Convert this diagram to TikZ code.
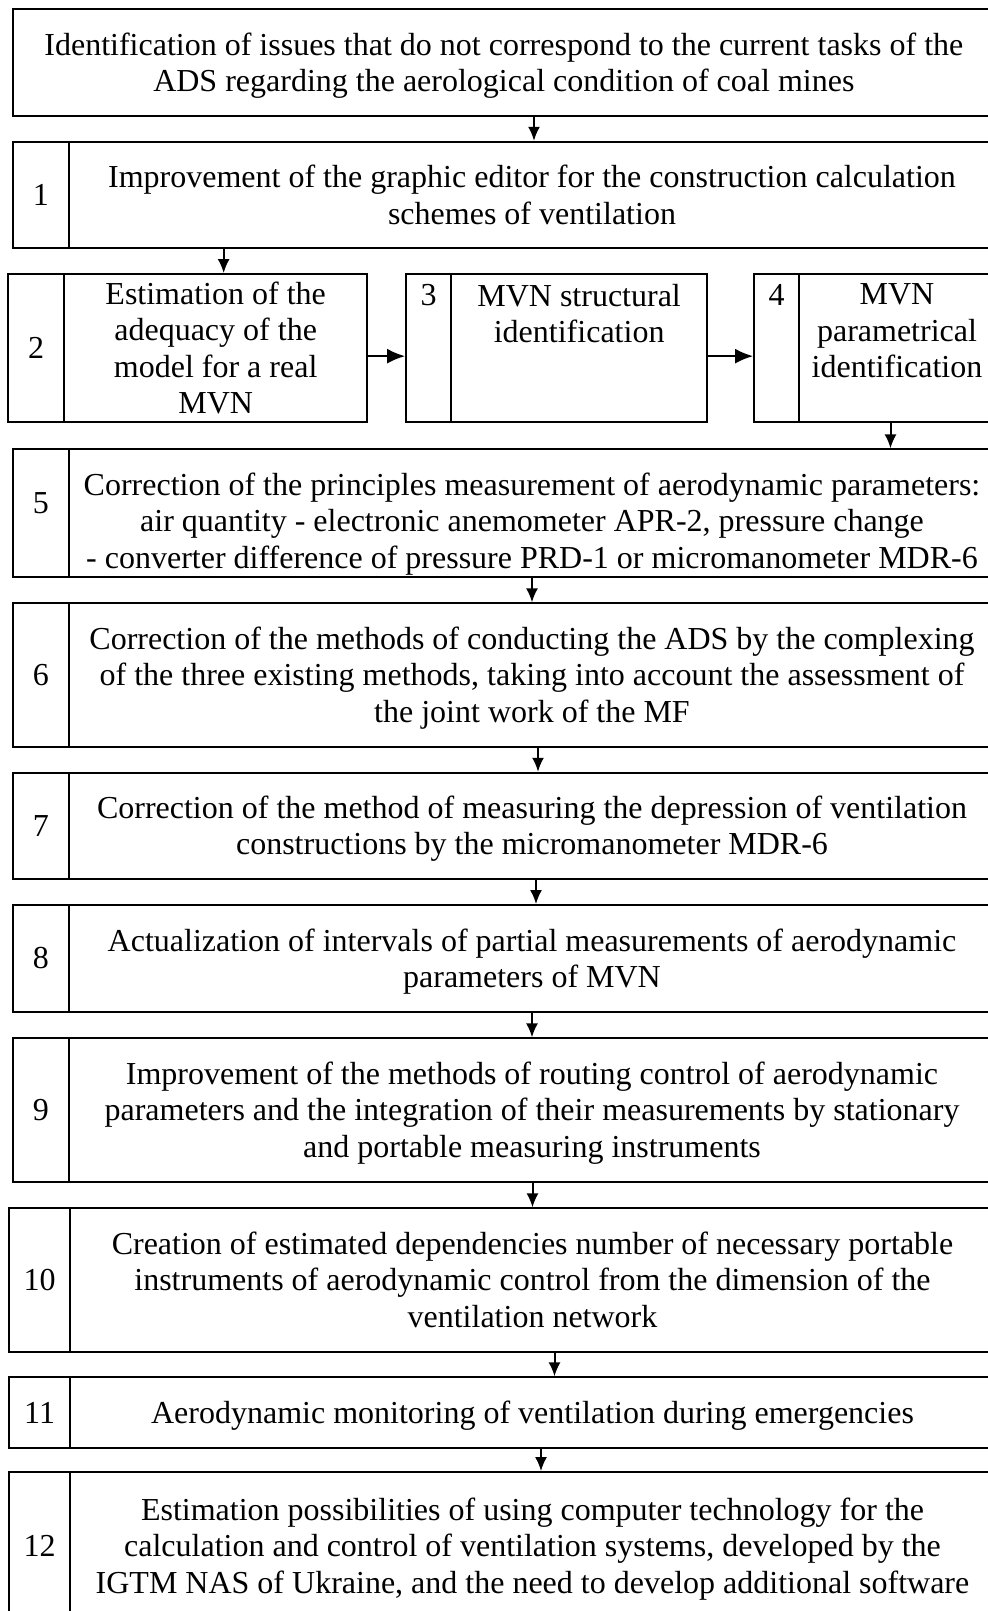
\documentclass[tikz,border=0pt]{standalone}
\usepackage{fontspec}
\setmainfont{Liberation Serif}
\usetikzlibrary{arrows.meta,calc}

\begin{document}
\begin{tikzpicture}[x=0.5pt, y=-0.5pt,
    every node/.style={draw, rectangle, line width=0.9pt, inner sep=0pt, align=center,
        font=\fontsize{16}{18.2}\selectfont},
    stage/.style={text depth=0.4pt},
    arr/.style={->, >={Latex[length=7pt, width=6pt]}, line width=1pt},
    harr/.style={->, >={Latex[length=9pt, width=7.5pt]}, line width=1pt}]
    \useasboundingbox (0,0) rectangle (987,1611);

    \node[stage, minimum width=491.15pt, minimum height=53.5pt] (top) at (503.85,62.5) {Identification of issues that do not correspond to the current tasks of the\\ADS regarding the aerological condition of coal mines};

    \node[minimum width=28.15pt, minimum height=53.3pt] (n1) at (40.85,195) {1};
    \node[stage, minimum width=463pt, minimum height=53.3pt] (b1) at (532,195) {Improvement of the graphic editor for the construction calculation\\schemes of ventilation};

    \node[minimum width=27.85pt, minimum height=74.15pt] (n2) at (36.15,348.15) {2};
    \node[stage, minimum width=151.65pt, minimum height=74.15pt] (b2) at (215.65,348.15) {Estimation of the\\adequacy of the\\model for a real\\MVN};
    \node[minimum width=22.5pt, minimum height=74.15pt] (n3) at (428.5,348.15) {\parbox[c][74.15pt][t]{22.5pt}{\centering\vspace*{5pt}3}};
    \node[minimum width=128.15pt, minimum height=74.15pt] (b3) at (579.15,348.15) {\parbox[c][74.15pt][t]{128.15pt}{\centering\vspace*{5pt}MVN structural\\identification}};
    \node[minimum width=22.5pt, minimum height=74.15pt] (n4) at (776.5,348.15) {\parbox[c][74.15pt][t]{22.5pt}{\centering\vspace*{5pt}4}};
    \node[minimum width=98pt, minimum height=74.15pt] (b4) at (897,348.15) {\parbox[c][74.15pt][t]{98pt}{\centering\vspace*{5pt}MVN\\parametrical\\identification}};

    \node[minimum width=28.15pt, minimum height=63.7pt] (n5) at (40.85,513) {\raisebox{10pt}{5}};
    \node[minimum width=463pt, minimum height=63.7pt] (b5) at (532,513) {\parbox[c][63.7pt][c]{463pt}{\centering\vspace*{11pt}Correction of the principles measurement of aerodynamic parameters:\\air quantity - electronic anemometer APR-2, pressure change\\- converter difference of pressure PRD-1 or micromanometer MDR-6}};

    \node[minimum width=28.15pt, minimum height=71.7pt] (n6) at (40.85,675) {6};
    \node[stage, minimum width=463pt, minimum height=71.7pt] (b6) at (532,675) {Correction of the methods of conducting the ADS by the complexing\\of the three existing methods, taking into account the assessment of\\the joint work of the MF};

    \node[minimum width=28.15pt, minimum height=53.15pt] (n7) at (40.85,825.85) {7};
    \node[stage, minimum width=463pt, minimum height=53.15pt] (b7) at (532,825.85) {Correction of the method of measuring the depression of ventilation\\constructions by the micromanometer MDR-6};

    \node[minimum width=28.15pt, minimum height=53.35pt] (n8) at (40.85,958.35) {8};
    \node[stage, minimum width=463pt, minimum height=53.35pt] (b8) at (532,958.35) {Actualization of intervals of partial measurements of aerodynamic\\parameters of MVN};

    \node[minimum width=28.15pt, minimum height=71.7pt] (n9) at (40.85,1110) {9};
    \node[stage, minimum width=463pt, minimum height=71.7pt] (b9) at (532,1110) {Improvement of the methods of routing control of aerodynamic\\parameters and the integration of their measurements by stationary\\and portable measuring instruments};

    \node[minimum width=30.35pt, minimum height=71.7pt] (n10) at (39.65,1280) {10};
    \node[stage, minimum width=462.5pt, minimum height=71.7pt] (b10) at (532.5,1280) {Creation of estimated dependencies number of necessary portable\\instruments of aerodynamic control from the dimension of the\\ventilation network};

    \node[minimum width=30.35pt, minimum height=35.35pt] (n11) at (39.65,1412.65) {11};
    \node[stage, minimum width=462.5pt, minimum height=35.35pt] (b11) at (532.5,1412.65) {Aerodynamic monitoring of ventilation during emergencies};

    \node[minimum width=30.35pt, minimum height=74pt] (n12) at (39.65,1546) {12};
    \node[stage, minimum width=462.5pt, minimum height=74pt] (b12) at (532.5,1546) {Estimation possibilities of using computer technology for the\\calculation and control of ventilation systems, developed by the\\IGTM NAS of Ukraine, and the need to develop additional software};

    % arrows between the stages
    \draw[arr] ($(b1.north |- top.south)+(2,0)$) -- ($(b1.north)+(2,0)$);
    \draw[arr] ($(b2.north |- b1.south)+(8,0)$) -- ($(b2.north)+(8,0)$);
    \draw[harr] ($(b2.east)+(0,8)$) -- ($(n3.west)+(0,8)$);
    \draw[harr] ($(b3.east)+(0,8)$) -- ($(n4.west)+(0,8)$);
    \draw[arr] ($(b4.south)+(-6.5,0)$) -- ($(b4.south |- b5.north)+(-6.5,0)$);
    \draw[arr] (b5.south) -- (b6.north);
    \draw[arr] ($(b6.south)+(6,0)$) -- ($(b7.north)+(6,0)$);
    \draw[arr] ($(b7.south)+(4,0)$) -- ($(b8.north)+(4,0)$);
    \draw[arr] (b8.south) -- (b9.north);
    \draw[arr] (b10.north |- b9.south) -- (b10.north);
    \draw[arr] ($(b10.south)+(22,0)$) -- ($(b11.north)+(22,0)$);
    \draw[arr] ($(b11.south)+(8.5,0)$) -- ($(b12.north)+(8.5,0)$);
\end{tikzpicture}
\end{document}
